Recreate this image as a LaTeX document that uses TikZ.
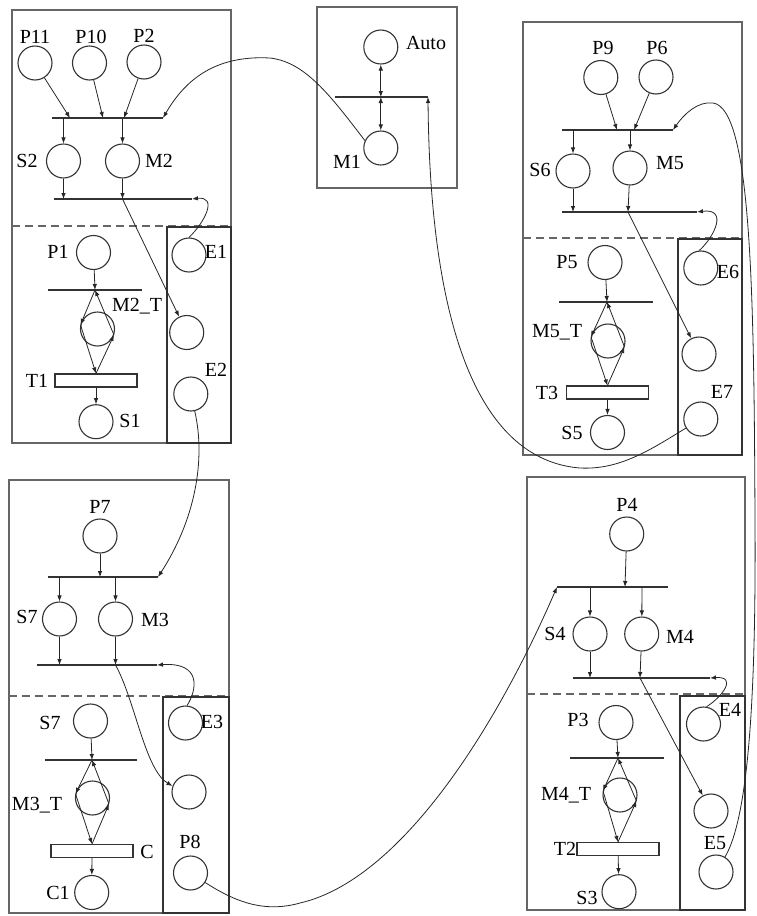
\documentclass[tikz,border=0pt]{standalone}
\usepackage{fontspec}
\setmainfont{Liberation Serif}
\usetikzlibrary{arrows.meta}
\begin{document}
\begin{tikzpicture}[x=1pt,y=-1pt,
  place/.style={circle,draw=black!80,line width=1.1pt,minimum size=34pt,inner sep=0pt},
  lbl/.style={inner sep=0pt,font=\fontsize{20}{20}\selectfont},
  arc/.style={draw=black!85,line width=0.8pt,-{Latex[length=6pt,width=4.5pt]}},
  biarc/.style={draw=black!85,line width=0.8pt,{Latex[length=6pt,width=4.5pt]}-{Latex[length=6pt,width=4.5pt]}},
  bar/.style={draw=black!80,line width=1.6pt},
  tbox/.style={draw=black!80,line width=1.1pt,minimum width=82pt,minimum height=13pt,inner sep=0pt},
  frame/.style={draw=black!60,line width=1.6pt},
  innerbox/.style={draw=black!80,line width=1.8pt},
  split/.style={draw=black!60,line width=1.3pt,dash pattern=on 8pt off 5pt},
]
\useasboundingbox (0,0) rectangle (756,916);

% ================= module A (upper left) =================
\draw[frame] (12,10) rectangle (231,443);
\draw[split] (12,226) -- (231,226);
\draw[innerbox] (167,227) rectangle (231,443);

\node[place] (P11) at (35,63) {};
\node[place] (P10) at (89.5,63) {};
\node[place] (P2) at (144,62) {};
\node[lbl] (P11l) at (35,37) {P11};
\node[lbl] (P10l) at (91,37) {P10};
\node[lbl] (P2l) at (144,36) {P2};

\coordinate (A1l) at (52,118);  \coordinate (A1r) at (163,118);
\coordinate (A1a) at (70,118);  \coordinate (A1b) at (103,118);
\coordinate (A1c) at (124,118); \coordinate (A1s) at (63.5,118);
\coordinate (A1m) at (122.5,118);
\draw[bar] (A1l) -- (A1r);
\draw[arc] (P11) -- (A1a);
\draw[arc] (P10) -- (A1b);
\draw[arc] (P2) -- (A1c);

\node[place] (S2) at (63.5,161) {};
\node[place] (M2) at (122.5,161) {};
\node[lbl] (S2l) at (27,161) {S2};
\node[lbl] (M2l) at (159,161) {M2};
\draw[arc] (A1s) -- (S2);
\draw[arc] (A1m) -- (M2);

\coordinate (A2l) at (54,199);  \coordinate (A2e) at (192,199);
\coordinate (A2s) at (63.5,199); \coordinate (A2m) at (122.5,199);
\draw[bar] (A2l) -- (A2e);
\draw[arc] (S2) -- (A2s);
\draw[arc] (M2) -- (A2m);

\node[place] (P1) at (93.5,252.5) {};
\node[lbl] (P1l) at (58,252) {P1};
\coordinate (A3l) at (48,290); \coordinate (A3r) at (142,290);
\coordinate (A3v) at (95,290);
\draw[bar] (A3l) -- (A3r);
\draw[arc] (P1) -- (A3v);

\node[place] (M2T) at (97.5,329) {};
\node[lbl] (M2Tl) at (137,306) {M2\_T};
\node[tbox] (T1) at (96,380.5) {};
\node[lbl] (T1l) at (37,381) {T1};
\draw[arc] (A3v) -- (M2T.166);
\draw[arc] (M2T.166) -- (T1.north);
\draw[arc] (T1.north) -- (M2T.-20);
\draw[arc] (M2T.-20) -- (A3v);

\node[place] (S1) at (96,421.7) {};
\node[lbl] (S1l) at (130,421) {S1};
\draw[arc] (T1) -- (S1);

\node[place] (E1) at (189,255) {};
\node[place] (X1) at (186.7,332.5) {};
\node[place] (E2) at (190.8,394) {};
\node[lbl] (E1l) at (216,252) {E1};
\node[lbl] (E2l) at (216,370) {E2};
\draw[arc] (E1.90) .. controls (205,222) and (218,196) .. (A2e);
\draw[arc] (A2m) -- (X1);

% ================= module M (mode selector) =================
\draw[frame] (317,7) rectangle (457,188);
\node[place] (Auto) at (380.8,47) {};
\node[lbl] (Autol) at (426,43) {Auto};
\node[place] (M1) at (380.8,148) {};
\node[lbl] (M1l) at (347,162) {M1};
\coordinate (Ml) at (335,97); \coordinate (Mr) at (428,97);
\coordinate (Mc) at (380.8,97);
\draw[bar] (Ml) -- (Mr);
\draw[biarc] (Auto) -- (Mc);
\draw[biarc] (Mc) -- (M1);
\draw[arc] (M1.155) .. controls (330,95) and (305,62) .. (270,58)
  .. controls (215,55) and (185,80) .. (A1r);

% ================= module B (upper right) =================
\draw[frame] (523,22) rectangle (742,455);
\draw[split] (523,238) -- (742,238);
\draw[innerbox] (678,239) rectangle (742,455);

\node[place] (P9) at (600.8,77.5) {};
\node[place] (P6) at (656,77) {};
\node[lbl] (P9l) at (603,48) {P9};
\node[lbl] (P6l) at (657,48) {P6};
\coordinate (B1l) at (562,130); \coordinate (B1r) at (673,130);
\coordinate (B1a) at (617,130); \coordinate (B1b) at (634,130);
\coordinate (B1s) at (573,130); \coordinate (B1m) at (630,130);
\draw[bar] (B1l) -- (B1r);
\draw[arc] (P9) -- (B1a);
\draw[arc] (P6) -- (B1b);

\node[place] (S6) at (573,171) {};
\node[place] (M5) at (630,168) {};
\node[lbl] (S6l) at (540,170) {S6};
\node[lbl] (M5l) at (670,163) {M5};
\draw[arc] (B1s) -- (S6);
\draw[arc] (B1m) -- (M5);

\coordinate (B2l) at (562,212); \coordinate (B2e) at (697,212);
\coordinate (B2s) at (573,212); \coordinate (B2m) at (628,212);
\draw[bar] (B2l) -- (B2e);
\draw[arc] (S6) -- (B2s);
\draw[arc] (M5) -- (B2m);

\node[place] (P5) at (605,262.5) {};
\node[lbl] (P5l) at (567,262) {P5};
\coordinate (B3l) at (559,302); \coordinate (B3r) at (653,302);
\coordinate (B3v) at (607,302);
\draw[bar] (B3l) -- (B3r);
\draw[arc] (P5) -- (B3v);

\node[place] (M5T) at (608,341) {};
\node[lbl] (M5Tl) at (557,332) {M5\_T};
\node[tbox] (T3) at (607.5,392.5) {};
\node[lbl] (T3l) at (547,393) {T3};
\draw[arc] (B3v) -- (M5T.166);
\draw[arc] (M5T.166) -- (T3.north);
\draw[arc] (T3.north) -- (M5T.-20);
\draw[arc] (M5T.-20) -- (B3v);

\node[place] (S5) at (607.5,432.5) {};
\node[lbl] (S5l) at (572,433) {S5};
\draw[arc] (T3) -- (S5);

\node[place] (E6) at (700.8,268) {};
\node[place] (X2) at (699,354) {};
\node[place] (E7) at (700.8,419) {};
\node[lbl] (E6l) at (728,272) {E6};
\node[lbl] (E7l) at (722,392) {E7};
\draw[arc] (E6.95) .. controls (715,236) and (728,208) .. (B2e);
\draw[arc] (B2m) -- (X2);
\draw[arc] (E7) .. controls (650,450) and (620,470) .. (580,468)
  .. controls (480,460) and (430,330) .. (Mr);

% ================= module C (lower left) =================
\draw[frame] (9,480) rectangle (229,913);
\draw[split] (9,696) -- (229,696);
\draw[innerbox] (163,697) rectangle (229,913);

\node[place] (P7) at (100,536) {};
\node[lbl] (P7l) at (100,507) {P7};
\coordinate (C1l) at (48,577); \coordinate (C1e) at (158,577);
\coordinate (C1a) at (100,577);
\coordinate (C1s) at (59.5,577); \coordinate (C1m) at (115.5,577);
\draw[bar] (C1l) -- (C1e);
\draw[arc] (P7) -- (C1a);

\node[place] (S7a) at (59.5,619) {};
\node[place] (M3) at (115.5,619) {};
\node[lbl] (S7al) at (27,617) {S7};
\node[lbl] (M3l) at (155,620) {M3};
\draw[arc] (C1s) -- (S7a);
\draw[arc] (C1m) -- (M3);

\coordinate (C2l) at (37,665); \coordinate (C2e) at (157,665);
\coordinate (C2s) at (59.5,665); \coordinate (C2m) at (115.5,665);
\draw[bar] (C2l) -- (C2e);
\draw[arc] (S7a) -- (C2s);
\draw[arc] (M3) -- (C2m);

\node[place] (S7b) at (90.5,721) {};
\node[lbl] (S7bl) at (50,723) {S7};
\coordinate (C3l) at (45,760); \coordinate (C3r) at (137,760);
\coordinate (C3v) at (92,760);
\draw[bar] (C3l) -- (C3r);
\draw[arc] (S7b) -- (C3v);

\node[place] (M3T) at (92.5,798) {};
\node[lbl] (M3Tl) at (37,805) {M3\_T};
\node[tbox] (Ct) at (92,851) {};
\node[lbl] (Ctl) at (147,852) {C};
\draw[arc] (C3v) -- (M3T.166);
\draw[arc] (M3T.166) -- (Ct.north);
\draw[arc] (Ct.north) -- (M3T.-20);
\draw[arc] (M3T.-20) -- (C3v);

\node[place] (C1) at (91.7,892.5) {};
\node[lbl] (C1lb) at (58,893) {C1};
\draw[arc] (Ct) -- (C1);

\node[place] (E3) at (185.5,723) {};
\node[place] (X3) at (189,792) {};
\node[place] (P8) at (190.5,873) {};
\node[lbl] (E3l) at (212,722) {E3};
\node[lbl] (P8l) at (190,842) {P8};
\draw[arc] (E3.85) .. controls (197,690) and (202,662) .. (C2e);
\draw[arc] (C2m) .. controls (135,700) and (145,770) .. (X3.160);
\draw[arc] (E2) .. controls (206,460) and (195,520) .. (C1e);

% ================= module D (lower right) =================
\draw[frame] (527,477) rectangle (745,910);
\draw[split] (527,694) -- (745,694);
\draw[innerbox] (680,696) rectangle (745,910);

\node[place] (P4) at (626.7,534) {};
\node[lbl] (P4l) at (627,505) {P4};
\coordinate (D1l) at (557,587); \coordinate (D1r) at (668,587);
\coordinate (D1a) at (625,587);
\coordinate (D1s) at (590,587); \coordinate (D1m) at (642,587);
\draw[bar] (D1l) -- (D1r);
\draw[arc] (P4) -- (D1a);

\node[place] (S4) at (590,634) {};
\node[place] (M4) at (641.7,634) {};
\node[lbl] (S4l) at (555,634) {S4};
\node[lbl] (M4l) at (680,637) {M4};
\draw[arc] (D1s) -- (S4);
\draw[arc] (D1m) -- (M4);

\coordinate (D2l) at (573,678); \coordinate (D2e) at (710,678);
\coordinate (D2s) at (590,678); \coordinate (D2m) at (640,678);
\draw[bar] (D2l) -- (D2e);
\draw[arc] (S4) -- (D2s);
\draw[arc] (M4) -- (D2m);

\node[place] (P3) at (616,722.5) {};
\node[lbl] (P3l) at (578,720) {P3};
\coordinate (D3l) at (570,758); \coordinate (D3r) at (664,758);
\coordinate (D3v) at (618,758);
\draw[bar] (D3l) -- (D3r);
\draw[arc] (P3) -- (D3v);

\node[place] (M4T) at (620,795) {};
\node[lbl] (M4Tl) at (566,795) {M4\_T};
\node[tbox] (T2) at (618,849) {};
\node[lbl] (T2l) at (565,849) {T2};
\draw[arc] (D3v) -- (M4T.166);
\draw[arc] (M4T.166) -- (T2.north);
\draw[arc] (T2.north) -- (M4T.-20);
\draw[arc] (M4T.-20) -- (D3v);

\node[place] (S3) at (619,891.7) {};
\node[lbl] (S3l) at (587,898) {S3};
\draw[arc] (T2) -- (S3);

\node[place] (E4) at (703.5,724) {};
\node[place] (X4) at (711,811) {};
\node[place] (E5) at (716,872) {};
\node[lbl] (E4l) at (730,710) {E4};
\node[lbl] (E5l) at (715,843) {E5};
\draw[arc] (E4.80) .. controls (722,697) and (738,676) .. (D2e);
\draw[arc] (D2m) -- (X4);

% ================= links between modules =================
\draw[arc] (P8) .. controls (240,905) and (268,912) .. (300,903)
  .. controls (400,880) and (495,730) .. (D1l);
\draw[arc] (E5) .. controls (750,815) and (756,680) .. (755,520)
  .. controls (754,300) and (752,108) .. (713,103)
  .. controls (698,101) and (684,114) .. (B1r);
\end{tikzpicture}
\end{document}
